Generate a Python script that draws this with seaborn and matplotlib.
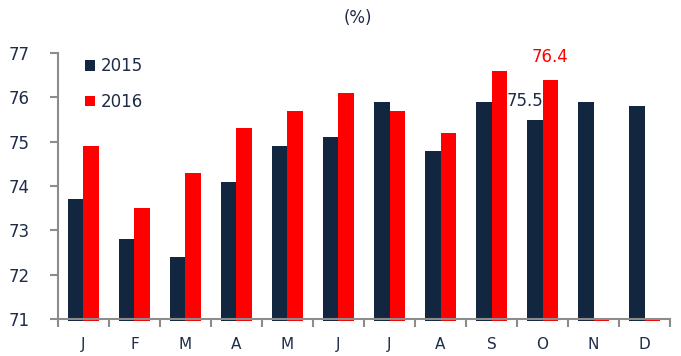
import matplotlib
matplotlib.use("Agg")
import matplotlib.pyplot as plt
import seaborn as sns
import pandas as pd
import numpy as np

months = ["J", "F", "M", "A", "M", "J", "J", "A", "S", "O", "N", "D"]
vals_2015 = [73.7, 72.8, 72.4, 74.1, 74.9, 75.1, 75.9, 74.8, 75.9, 75.5, 75.9, 75.8]
vals_2016 = [74.9, 73.5, 74.3, 75.3, 75.7, 76.1, 75.7, 75.2, 76.6, 76.4, 71.0, 71.0]
years = ["2015", "2016"]
yticks = [71, 72, 73, 74, 75, 76, 77]

NAVY = "#13263F"
RED = "#FF0000"
GRAY = "#8C8C8C"
TXT = "#1E2C48"

sns.set_theme(style="white")
plt.rcParams["font.family"] = ["DejaVu Sans"]

pos = list(range(len(months)))
df = pd.DataFrame({
    "pos": pos * 2,
    "value": vals_2015 + vals_2016,
    "year": [years[0]] * 12 + [years[1]] * 12,
})

fig = plt.figure(figsize=(6.81, 3.56), dpi=100)
ax = fig.add_axes([0.085, 0.104, 0.899, 0.747])

sns.barplot(data=df, x="pos", y="value", hue="year", order=pos,
            palette=[NAVY, RED], width=0.6, saturation=1, ax=ax,
            legend=True)

base = 71.0
for p in ax.patches:
    top = p.get_y() + p.get_height()
    p.set_y(base - 0.05)
    p.set_height(top - base + 0.05)
    p.set_clip_on(False)
    p.set_linewidth(0)

ax.set_ylim(71, 77)
ax.set_xlim(-0.5, 11.5)
ax.set_yticks(yticks)
ax.set_yticklabels([str(t) for t in yticks], fontsize=12, color=TXT)
ax.set_xticks(pos)
ax.set_xticklabels(months, fontsize=11, color=TXT)
ax.set_xticks(np.arange(-0.5, 12, 1), minor=True)
ax.tick_params(axis="x", which="major", length=0, pad=13)
ax.tick_params(axis="x", which="minor", length=6, color=GRAY, width=1.5, direction="out", bottom=True)
ax.tick_params(axis="y", length=6, color=GRAY, width=1.5, direction="out", left=True, pad=14)
ax.set_xlabel("")
ax.set_ylabel("")

for s in ["top", "right"]:
    ax.spines[s].set_visible(False)
for s in ["left", "bottom"]:
    ax.spines[s].set_color(GRAY)
    ax.spines[s].set_linewidth(1.5)
    ax.spines[s].set_zorder(3)

leg = ax.legend(loc="upper left", bbox_to_anchor=(0.02, 1.04), frameon=False,
                fontsize=12, handlelength=0.6, handleheight=0.6, handletextpad=0.35,
                labelspacing=1.05, labelcolor=TXT)

ax.text(9 + 0.02, vals_2015[9] + 0.42, f"{vals_2015[9]:.1f}", color=TXT, fontsize=12,
        ha="right", va="center")
ax.text(9 + 0.15, vals_2016[9] + 0.3, f"{vals_2016[9]:.1f}", color=RED, fontsize=12,
        ha="center", va="bottom")

fig.text(0.525, 0.95, "(%)", ha="center", va="center", fontsize=12, color=TXT)

fig.savefig("out.png", dpi=100)
